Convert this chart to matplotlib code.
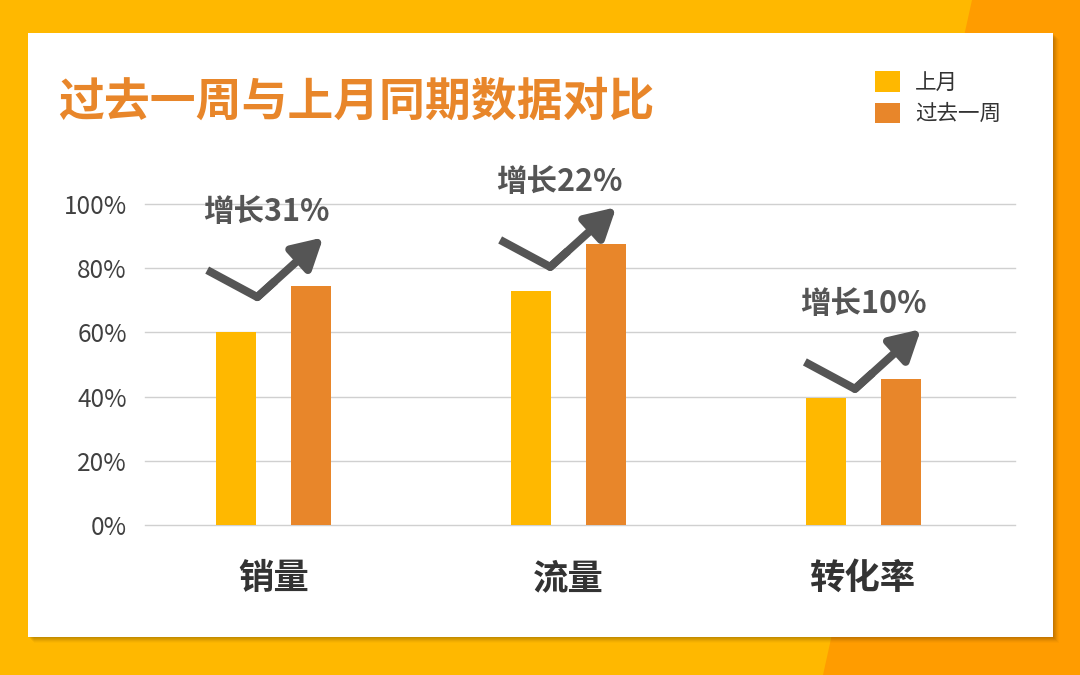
import numpy as np
import matplotlib.pyplot as plt
from matplotlib.patches import Rectangle, Polygon

plt.rcParams['font.family'] = ['Noto Sans CJK SC', 'DejaVu Sans']

# Data
categories = ['销量', '流量', '转化率']
last_month = [60, 73, 39.5]
last_week = [74.5, 87.5, 45.5]
growth_labels = ['增长31%', '增长22%', '增长10%']
# arrow start points (x in category units, y in %)
arrow_x = [-0.226, 0.768, 1.802]
arrow_y = [79.4, 88.8, 50.8]

W, H = 1080, 675
fig = plt.figure(figsize=(W / 100, H / 100), dpi=100)
fig.patch.set_facecolor('#FFB800')

# background shapes
fig.patches.append(Polygon([[972 / W, 1], [1, 1], [1, 0], [823 / W, 0]],
                           closed=True, transform=fig.transFigure,
                           facecolor='#FF9C00', edgecolor='none', zorder=0))
cx0, cy0, cx1, cy1 = 28, 33, 1053, 637
for i, a in enumerate([0.05, 0.05, 0.05, 0.04, 0.03, 0.02]):
    off = i + 1
    fig.patches.append(Rectangle(((cx0 + off) / W, 1 - (cy1 + off) / H),
                                 (cx1 - cx0) / W, (cy1 - cy0) / H,
                                 transform=fig.transFigure, facecolor='black',
                                 alpha=a, edgecolor='none', zorder=0.5))
fig.patches.append(Rectangle((cx0 / W, 1 - cy1 / H), (cx1 - cx0) / W, (cy1 - cy0) / H,
                             transform=fig.transFigure, facecolor='white',
                             edgecolor='none', zorder=1))

ax = fig.add_axes([145 / W, 150 / H, 870 / W, 321 / H])
ax.set_facecolor('none')
ax.set_zorder(2)

x = np.arange(len(categories))
off = 0.127
bw = 0.136
b1 = ax.bar(x - off, last_month, bw, color='#FFB800', label='上月', zorder=3)
b2 = ax.bar(x + off, last_week, bw, color='#E8862A', label='过去一周', zorder=3)

ax.set_xlim(-0.437, 2.515)
ax.set_ylim(0, 100)
ax.set_yticks(np.arange(0, 101, 20))
ax.set_yticklabels([f'{v}%' for v in range(0, 101, 20)], fontsize=17.5, color='#404040')
ax.yaxis.grid(True, color='#D0D0D0', lw=1)
for gl in ax.yaxis.get_gridlines():
    gl.set_clip_on(False)
ax.set_axisbelow(True)
ax.set_xticks(x)
ax.set_xticklabels(categories, fontsize=25.5, fontweight='bold', color='#333333')
ax.tick_params(axis='y', length=0, pad=13)
ax.tick_params(axis='x', length=0, pad=26)
for s in ax.spines.values():
    s.set_visible(False)

# growth arrows
gray = '#555555'
for i in range(len(categories)):
    sx, sy = arrow_x[i], arrow_y[i]
    mx, my = sx + 0.170, sy - 8.4
    tx, ty = mx + 0.224, my + 18.6
    ax.plot([sx, mx, mx + 0.06], [sy, my, my + 0.06 / 0.224 * 18.6], color=gray, lw=5.8,
            solid_joinstyle='round', solid_capstyle='butt', zorder=4, clip_on=False)
    ax.annotate('', xy=(tx, ty), xytext=(mx, my),
                arrowprops=dict(arrowstyle='-|>,head_length=0.9,head_width=0.5',
                                mutation_scale=20, lw=5.8, color=gray,
                                shrinkA=0, shrinkB=0),
                annotation_clip=False, zorder=4)
    ax.text(sx + 0.2, sy + 18, growth_labels[i], ha='center', va='center',
            fontsize=22, fontweight='bold', color=gray, zorder=5, clip_on=False)

# title
fig.text(58 / W, 1 - 103 / H, '过去一周与上月同期数据对比', fontsize=33,
         fontweight='bold', color='#E8862A', va='center', ha='left', zorder=3)

# legend
fig.legend(handles=[b1, b2], loc='upper left', bbox_to_anchor=(856 / W, 1 - 52 / H),
           frameon=False, fontsize=15.5, handlelength=1.15, handleheight=1.1,
           handletextpad=0.7, labelspacing=0.4, labelcolor='#333333')

fig.savefig('out.png', dpi=100, facecolor=fig.get_facecolor())
